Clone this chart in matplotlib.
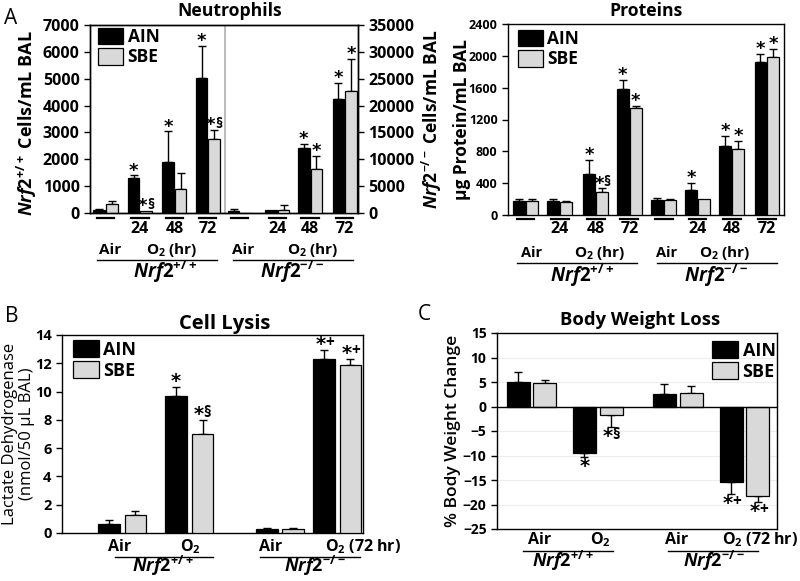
import matplotlib
matplotlib.use('Agg')
import matplotlib.pyplot as plt
import numpy as np
from matplotlib.lines import Line2D
from matplotlib.patches import Patch
from matplotlib.transforms import blended_transform_factory

plt.rcParams['font.family'] = ['Open Sans', 'DejaVu Sans']
plt.rcParams['mathtext.fontset'] = 'custom'
plt.rcParams['mathtext.rm'] = 'Open Sans:bold'
plt.rcParams['mathtext.it'] = 'Open Sans:italic:bold'
plt.rcParams['mathtext.bf'] = 'Open Sans:bold'
plt.rcParams['axes.linewidth'] = 1.0

#==============================================================================#
# data
# Neutrophils, Nrf2+/+ (left axis, cells/mL) groups: Air, 24, 48, 72 hr
neu_wt_ain = [100, 1300, 1900, 5030]
neu_wt_ain_err = [60, 100, 1140, 1180]
neu_wt_sbe = [323, 75, 907, 2770]
neu_wt_sbe_err = [112, 0, 583, 310]
neu_wt_ain_mark = ['', '*', '*', '*']
neu_wt_sbe_mark = ['', '*§', '', '*§']
# Neutrophils, Nrf2-/- (right axis, cells/mL)
neu_ko_ain = [310, 500, 12170, 21300]
neu_ko_ain_err = [490, 0, 630, 2990]
neu_ko_sbe = [0, 620, 8140, 22670]
neu_ko_sbe_err = [0, 930, 2420, 6090]
neu_ko_ain_mark = ['', '', '*', '*']
neu_ko_sbe_mark = ['', '', '*', '*']

# Proteins (ug/mL), 8 groups: +/+ Air,24,48,72 then -/- Air,24,48,72
prot_ain = [179, 175, 520, 1589, 187, 320, 861, 1922]
prot_ain_err = [21, 20, 175, 108, 25, 88, 133, 104]
prot_sbe = [175, 158, 295, 1343, 187, 200, 832, 1984]
prot_sbe_err = [20, 17, 38, 30, 13, 0, 104, 108]
prot_ain_mark = ['', '', '*', '*', '', '*', '*', '*']
prot_sbe_mark = ['', '', '*§', '*', '', '', '*', '*']
time_labels = ['', '24', '48', '72', '', '24', '48', '72']

# Cell lysis (LDH), groups: +/+ Air, +/+ O2, -/- Air, -/- O2
ldh_ain = [0.61, 9.67, 0.26, 12.29]
ldh_ain_err = [0.29, 0.66, 0.07, 0.63]
ldh_sbe = [1.25, 7.03, 0.26, 11.86]
ldh_sbe_err = [0.28, 0.94, 0.07, 0.45]
ldh_ain_mark = ['', '*', '', '*+']
ldh_sbe_mark = ['', '*§', '', '*+']

# Body weight change (%)
bw_ain = [5.1, -9.4, 2.65, -15.4]
bw_ain_err = [2.0, 0.9, 1.9, 2.4]
bw_sbe = [4.7, -1.8, 2.8, -18.2]
bw_sbe_err = [0.7, 2.4, 1.4, 1.3]
bw_ain_mark = ['', '*', '', '*+']
bw_sbe_mark = ['', '*§', '', '*+']

#==============================================================================#
W, H = 800, 581
SBE_COLOR = '#d9d9d9'
WT = r'$\mathit{Nrf2}^{+/+}$'
KO = r'$\mathit{Nrf2}^{-/-}$'


def fx(px):
    return px / W


def fy(py):
    return 1 - py / H


def mark(ax, xi, y, m, size, above):
    # asterisk in DejaVu, any trailing sign (§, +) smaller in Open Sans
    va = 'bottom' if above else 'top'
    dy = -3 if above else 0
    if len(m) == 1:
        ax.annotate(m, (xi, y), xytext=(0, dy), textcoords='offset points', ha='center',
                    va=va, fontsize=size, fontweight='bold', family='DejaVu Sans')
        return
    ax.annotate(m[0], (xi, y), xytext=(-2.5, dy), textcoords='offset points', ha='center',
                va=va, fontsize=size, fontweight='bold', family='DejaVu Sans')
    sdy = dy + size * (0.19 if above else 0.0)
    ax.annotate(m[1:], (xi, y), xytext=(0.8, sdy), textcoords='offset points', ha='left',
                va=va, fontsize=size * 0.8, fontweight='bold')


def draw_pairs(ax, x, ain, ain_err, sbe, sbe_err, off, width,
               ain_mark, sbe_mark, star_size=13):
    x = np.asarray(x, dtype=float)
    for xs, vals, errs, col, marks in [(x - off, ain, ain_err, 'black', ain_mark),
                                       (x + off, sbe, sbe_err, SBE_COLOR, sbe_mark)]:
        vals = np.asarray(vals, dtype=float)
        errs = np.asarray(errs, dtype=float)
        ax.bar(xs, vals, width, color=col, edgecolor='black', linewidth=0.9, zorder=3)
        up = np.where(vals >= 0, errs, 0)
        lo = np.where(vals < 0, errs, 0)
        keep = errs > 0
        ax.errorbar(xs[keep], vals[keep], yerr=[lo[keep], up[keep]], fmt='none',
                    ecolor='black', elinewidth=1.0, capsize=3, capthick=1.0, zorder=2)
        for xi, v, e, m in zip(xs, vals, errs, marks):
            if m:
                if v >= 0:
                    mark(ax, xi, v + e, m, star_size, True)
                else:
                    mark(ax, xi, v - e, m, star_size, False)


def under_labels(ax, items, lines):
    tr = blended_transform_factory(ax.transData, ax.figure.transFigure)
    for x, py, s, size, ha in items:
        ax.text(x, fy(py), s, transform=tr, ha=ha, va='center', fontsize=size,
                fontweight='bold', clip_on=False)
    for x0, x1, py, lw in lines:
        ax.figure.add_artist(Line2D([x0, x1], [fy(py), fy(py)], transform=tr,
                                    color='black', linewidth=lw))


def legend(ax, loc, anchor, size=12.5):
    h = [Patch(facecolor='black', edgecolor='black', linewidth=0.9),
         Patch(facecolor=SBE_COLOR, edgecolor='black', linewidth=0.9)]
    leg = ax.legend(h, ['AIN', 'SBE'], loc=loc, bbox_to_anchor=anchor, frameon=False,
                    handlelength=1.45, handleheight=1.1, labelspacing=0.12,
                    handletextpad=0.25, borderaxespad=0, borderpad=0,
                    prop={'weight': 'bold', 'size': size})
    return leg


def bold_ticks(ax, size):
    ax.tick_params(axis='y', direction='out', length=4, width=1, labelsize=size)
    for t in ax.get_yticklabels():
        t.set_fontweight('bold')


fig = plt.figure(figsize=(W / 100, H / 100), dpi=100)

#------------------------------------------------------------------------------#
# A: Neutrophils
xa = np.array([0.47, 1.51, 2.55, 3.56, 4.53, 5.66, 6.65, 7.7])
ax = fig.add_axes([fx(90), fy(213), fx(268), 188 / H])
ax2 = ax.twinx()
draw_pairs(ax, xa[:4], neu_wt_ain, neu_wt_ain_err, neu_wt_sbe, neu_wt_sbe_err, 0.19, 0.35,
           neu_wt_ain_mark, neu_wt_sbe_mark)
draw_pairs(ax2, xa[4:], neu_ko_ain, neu_ko_ain_err, neu_ko_sbe, neu_ko_sbe_err, 0.19, 0.35,
           neu_ko_ain_mark, neu_ko_sbe_mark)
ax.axvline(4.08, color='#b0b0b0', linewidth=1.2)
ax.set_xlim(0, 8.1)
ax.set_ylim(0, 7000)
ax2.set_ylim(0, 35000)
ax.set_yticks(np.arange(0, 7001, 1000))
ax2.set_yticks(np.arange(0, 35001, 5000))
ax.set_xticks([])
bold_ticks(ax, 11.5)
bold_ticks(ax2, 11.5)
ax.set_ylabel(WT + ' Cells/mL BAL', fontsize=13, fontweight='bold')
ax.yaxis.set_label_coords(-0.19, 0.48)
ax2.set_ylabel(KO + ' Cells/mL BAL', fontsize=12.5, fontweight='bold')
ax2.yaxis.set_label_coords(1.23, 0.5)
legend(ax, 'upper left', (0.03, 0.985))
fig.text(fx(230), fy(11), 'Neutrophils', ha='center', va='center', fontsize=12.7,
         fontweight='bold')

items = []
lines = []
for x, s in zip(xa, time_labels):
    lines.append((x - 0.26, x + 0.26, 218, 1.6))
    if s:
        items.append((x, 229, s, 11.5, 'center'))
items += [(0.6, 250, 'Air', 11, 'center'), (2.48, 250, 'O$_2$ (hr)', 11, 'center'),
          (2.27, 272, WT, 13.5, 'center'),
          (4.62, 250, 'Air', 11, 'center'), (6.74, 250, 'O$_2$ (hr)', 11, 'center'),
          (6.1, 272, KO, 13.5, 'center')]
lines += [(0.21, 3.84, 260, 1.0), (4.32, 7.95, 260, 1.0)]
under_labels(ax, items, lines)

#------------------------------------------------------------------------------#
# A: Proteins
xp = np.array([0.51, 1.52, 2.58, 3.56, 4.57, 5.56, 6.57, 7.6])
ax = fig.add_axes([fx(508), fy(215), fx(276), 191 / H])
draw_pairs(ax, xp, prot_ain, prot_ain_err, prot_sbe, prot_sbe_err, 0.19, 0.35,
           prot_ain_mark, prot_sbe_mark)
ax.set_xlim(0, 8.1)
ax.set_ylim(0, 2400)
ax.set_yticks(np.arange(0, 2401, 400))
ax.set_xticks([])
bold_ticks(ax, 9)
ax.set_ylabel('μg Protein/mL BAL', fontsize=12.5, fontweight='bold')
ax.yaxis.set_label_coords(-0.135, 0.5)
legend(ax, 'upper left', (0.035, 0.97))
fig.text(fx(646), fy(11), 'Proteins', ha='center', va='center', fontsize=12.7,
         fontweight='bold')

items = []
lines = []
for x, s in zip(xp, time_labels):
    lines.append((x - 0.26, x + 0.26, 219, 1.6))
    if s:
        items.append((x, 229, s, 11.5, 'center'))
items += [(0.7, 253, 'Air', 10.5, 'center'), (2.7, 253, 'O$_2$ (hr)', 11, 'center'),
          (2.17, 276, WT, 13.5, 'center'),
          (4.66, 253, 'Air', 10.5, 'center'), (6.36, 253, 'O$_2$ (hr)', 11, 'center'),
          (6.1, 276, KO, 13.5, 'center')]
lines += [(0.26, 3.8, 263, 1.0), (4.37, 7.89, 263, 1.0)]
under_labels(ax, items, lines)

#------------------------------------------------------------------------------#
# B: Cell lysis
xb = np.array([1.0, 2.115, 3.62, 4.57])
ax = fig.add_axes([fx(62), fy(533), fx(301), 198 / H])
draw_pairs(ax, xb, ldh_ain, ldh_ain_err, ldh_sbe, ldh_sbe_err, 0.22, 0.36,
           ldh_ain_mark, ldh_sbe_mark, star_size=14)
ax.set_xlim(0, 5)
ax.set_ylim(0, 14)
ax.set_yticks(np.arange(0, 15, 2))
ax.set_xticks([])
bold_ticks(ax, 10.5)
ax.set_ylabel('Lactate Dehydrogenase\n(nmol/50 µL BAL)', fontsize=12, linespacing=1.05)
ax.yaxis.set_label_coords(-0.09, 0.5)
legend(ax, 'upper left', (0.035, 0.975), size=13)
fig.text(fx(225), fy(324), 'Cell Lysis', ha='center', va='center', fontsize=14.5,
         fontweight='bold')
items = [(0.96, 547, 'Air', 11.5, 'center'), (2.13, 547, 'O$_2$', 11.5, 'center'),
         (1.68, 566, WT, 13, 'center'),
         (3.46, 547, 'Air', 11.5, 'center'), (4.37, 547, 'O$_2$ (72 hr)', 11.5, 'left'),
         (4.2, 566, KO, 13, 'center')]
lines = [(0.88, 2.51, 557, 1.0), (3.29, 4.95, 557, 1.0)]
under_labels(ax, items, lines)

#------------------------------------------------------------------------------#
# C: Body weight loss
xc = np.array([0.616, 1.8, 3.23, 4.42])
ax = fig.add_axes([fx(497), fy(529), fx(280), 196 / H])
for g in [10, 5, -5, -10, -15, -20]:
    ax.axhline(g, color='#ededed', linewidth=0.8, zorder=0)
draw_pairs(ax, xc, bw_ain, bw_ain_err, bw_sbe, bw_sbe_err, 0.24, 0.41,
           bw_ain_mark, bw_sbe_mark, star_size=14)
ax.axhline(0, color='black', linewidth=1.0, zorder=4)
ax.set_xlim(0, 5)
ax.set_ylim(-25, 15)
ax.set_yticks(np.arange(-25, 16, 5))
ax.set_xticks([])
bold_ticks(ax, 10)
ax.set_ylabel('% Body Weight Change', fontsize=12.5, fontweight='semibold')
ax.yaxis.set_label_coords(-0.13, 0.5)
legend(ax, 'upper right', (0.995, 0.96), size=13)
fig.text(fx(640), fy(320), 'Body Weight Loss', ha='center', va='center', fontsize=13.2,
         fontweight='bold')
items = [(0.77, 540, 'Air', 11.5, 'center'), (1.84, 540, 'O$_2$', 11.5, 'center'),
         (1.18, 561, WT, 13, 'center'),
         (3.21, 540, 'Air', 11.5, 'center'), (4.02, 540, 'O$_2$ (72 hr)', 11.5, 'left'),
         (3.88, 561, KO, 13, 'center')]
lines = [(0.46, 2.07, 551, 1.0), (3.05, 4.66, 551, 1.0)]
under_labels(ax, items, lines)

# panel letters
fig.text(fx(11), fy(19), 'A', ha='center', va='center', fontsize=15)
fig.text(fx(12), fy(317), 'B', ha='center', va='center', fontsize=15)
fig.text(fx(424), fy(315), 'C', ha='center', va='center', fontsize=15)

fig.savefig('out.png', dpi=100)
